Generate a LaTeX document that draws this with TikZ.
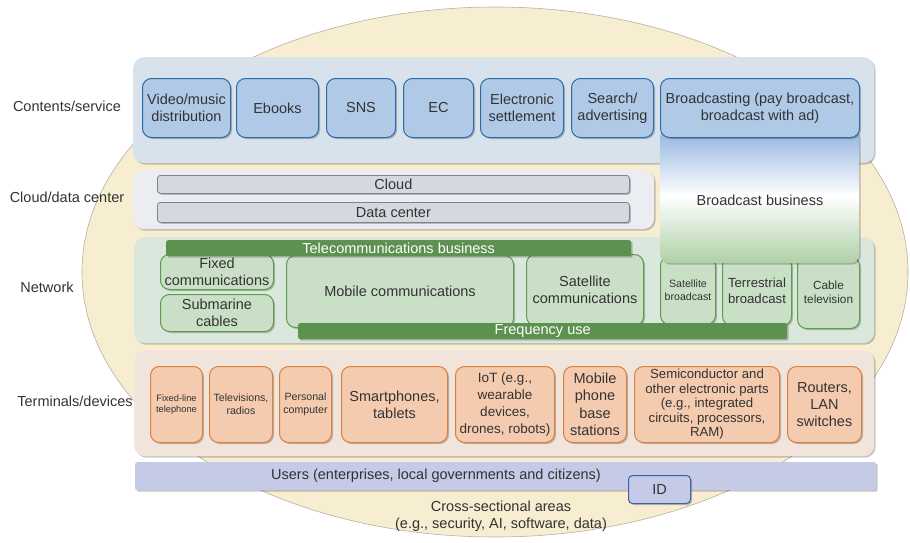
\documentclass[tikz,border=0pt]{standalone}
\usepackage{fontspec}
\setmainfont{Liberation Sans}
\usetikzlibrary{shadows}
\definecolor{txt}{HTML}{333333}
\definecolor{ellf}{HTML}{F7EDD0}
\definecolor{elld}{HTML}{B8B0A0}
\definecolor{cband}{HTML}{D7E2EC}
\definecolor{cfill}{HTML}{AFC9E6}
\definecolor{cdraw}{HTML}{2E6DA4}
\definecolor{clband}{HTML}{EBEDF3}
\definecolor{gyfill}{HTML}{D5D8DF}
\definecolor{gydraw}{HTML}{808389}
\definecolor{nband}{HTML}{DAE7DC}
\definecolor{gfill}{HTML}{C9E0C6}
\definecolor{gdraw}{HTML}{5E9B4E}
\definecolor{dkgreen}{HTML}{5D914F}
\definecolor{tband}{HTML}{F1E4DA}
\definecolor{ofill}{HTML}{F5CBAF}
\definecolor{odraw}{HTML}{D88040}
\definecolor{ufill}{HTML}{C5CAE6}
\definecolor{iddraw}{HTML}{3C62A8}
\definecolor{bbtop}{HTML}{8FB2DE}
\definecolor{bbbot}{HTML}{AFD0A6}
\tikzset{
  fs/.style n args={2}{font=\fontsize{#1}{#2}\selectfont},
  shd/.style={drop shadow={shadow xshift=1.5pt, shadow yshift=-1.5pt, opacity=0.22, fill=black}},
  band/.style={rounded corners=11pt, shd, inner sep=0pt},
  boxbase/.style={rounded corners=9pt, line width=1pt, inner sep=0pt, align=center, text=txt, anchor=north west, shd, fs={14.5}{17}},
  cbox/.style={boxbase, draw=cdraw, fill=cfill},
  gbox/.style={boxbase, draw=gdraw, fill=gfill},
  obox/.style={boxbase, draw=odraw, fill=ofill},
  gybar/.style={rounded corners=3pt, draw=gydraw, fill=gyfill, line width=0.8pt, inner sep=0pt, anchor=north west, text=txt, fs={14.5}{17}, shd},
  gbar/.style={rounded corners=2pt, fill=dkgreen, inner sep=0pt, anchor=north west, text=white, fs={14.5}{17}, shd},
  lbl/.style={text=txt, fs={14.5}{17}, inner sep=0pt}
}
\begin{document}
\begin{tikzpicture}[x=1pt,y=-1pt]
\useasboundingbox (0,0) rectangle (910,543);
% cross-sectional ellipse
\draw[fill=ellf, draw=elld, line width=0.6pt] (495,272) ellipse [x radius=413pt, y radius=265pt];
% bands
\node[band, fill=cband, minimum width=741pt, minimum height=106pt, anchor=north west] (contband) at (133,57) {};
\node[band, fill=clband, minimum width=521pt, minimum height=59pt, anchor=north west] (cloudband) at (133,170) {};
\node[band, fill=nband, minimum width=740pt, minimum height=106pt, anchor=north west] (netband) at (134,237) {};
\node[band, fill=tband, minimum width=740pt, minimum height=106pt, anchor=north west] (termband) at (134,350) {};
\node[rounded corners=2pt, fill=ufill, shd, minimum width=741pt, minimum height=28pt, inner sep=0pt, anchor=north west] (users) at (135,462) {};
\node[lbl] (userstxt) at (436,476) {Users (enterprises, local governments and citizens)};
% left labels
\node[lbl] (lcont) at (67,106) {Contents/service};
\node[lbl] (lcloud) at (67,197) {Cloud/data center};
\node[lbl] (lnet) at (47,287) {Network};
\node[lbl] (lterm) at (75,401) {Terminals/devices};
% contents boxes
\node[cbox, minimum width=88pt, minimum height=59pt] (vid) at (142,78) {Video/music\\distribution};
\node[cbox, minimum width=82pt, minimum height=59pt] (ebk) at (236,78) {Ebooks};
\node[cbox, minimum width=69pt, minimum height=59pt] (sns) at (326,78) {SNS};
\node[cbox, minimum width=70pt, minimum height=59pt] (ec) at (403,78) {EC};
\node[cbox, minimum width=83pt, minimum height=59pt] (es) at (480,78) {Electronic\\settlement};
\node[cbox, minimum width=82pt, minimum height=59pt] (sa) at (571,78) {Search/\\advertising};
% cloud bars
\node[gybar, minimum width=472pt, minimum height=18pt] (cloud) at (157,175) {Cloud};
\node[gybar, minimum width=472pt, minimum height=20pt] (dc) at (157,202) {Data center};
% network boxes
\node[gbox, minimum width=113pt, minimum height=35pt] (fixed) at (160,254) {Fixed\\communications};
\node[gbox, minimum width=113pt, minimum height=37pt] (sub) at (160,294) {Submarine\\cables};
\node[gbox, minimum width=227pt, minimum height=72pt] (mob) at (286,255) {Mobile communications};
\node[gbox, minimum width=117pt, minimum height=71pt] (satc) at (526,254) {Satellite\\communications};
\node[gbox, minimum width=55pt, minimum height=68pt, fs={10.6}{13}] (satb) at (660,256) {Satellite\\broadcast};
\node[gbox, minimum width=69pt, minimum height=69pt, fs={13.2}{16}] (terr) at (722,256) {Terrestrial\\broadcast};
\node[gbox, minimum width=62pt, minimum height=72pt, fs={11.8}{14.5}] (cab) at (797,256) {Cable\\television};
\node[gbar, minimum width=465pt, minimum height=16pt] (tel) at (166,240) {Telecommunications business};
\node[gbar, minimum width=489pt, minimum height=16pt] (freq) at (298,323) {Frequency use};
% broadcast business
\node[rounded corners=9pt, shd, top color=bbtop, bottom color=bbbot, middle color=white, minimum width=199pt, minimum height=135pt, inner sep=0pt, anchor=north west] (bb) at (660,128) {};
\node[lbl] (bbtxt) at (760,200) {Broadcast business};
\node[cbox, minimum width=199pt, minimum height=59pt] (brd) at (660,78) {Broadcasting (pay broadcast,\\broadcast with ad)};
% terminal boxes
\node[obox, minimum width=52pt, minimum height=76pt, fs={9.3}{11.7}] (flt) at (150,366) {Fixed-line\\telephone};
\node[obox, minimum width=63pt, minimum height=76pt, fs={10.6}{13}] (tv) at (209,366) {Televisions,\\radios};
\node[obox, minimum width=52pt, minimum height=76pt, fs={10.6}{13}] (pc) at (279,366) {Personal\\computer};
\node[obox, minimum width=106pt, minimum height=76pt] (sp) at (341,366) {Smartphones,\\tablets};
\node[obox, minimum width=99pt, minimum height=76pt, fs={13.5}{17}] (iot) at (455,366) {IoT (e.g.,\\wearable\\devices,\\drones, robots)};
\node[obox, minimum width=63pt, minimum height=76pt, fs={14.5}{17.5}] (mpb) at (563,366) {Mobile\\phone\\base\\stations};
\node[obox, minimum width=145pt, minimum height=76pt, fs={13.2}{14.5}] (semi) at (634,366) {Semiconductor and\\other electronic parts\\(e.g., integrated\\circuits, processors,\\RAM)};
\node[obox, minimum width=74pt, minimum height=76pt] (rt) at (787,366) {Routers,\\LAN\\switches};
% ID
\node[rounded corners=4pt, draw=iddraw, fill=ufill, line width=1pt, shd, minimum width=62pt, minimum height=28pt, inner sep=0pt, anchor=north west, text=txt, fs={14.5}{17}] (id) at (628,475) {ID};
% cross-sectional text
\node[lbl, align=center, fs={14.5}{16.5}] (cross) at (501,516) {Cross-sectional areas\\(e.g., security, AI, software, data)};
\end{tikzpicture}
\end{document}
